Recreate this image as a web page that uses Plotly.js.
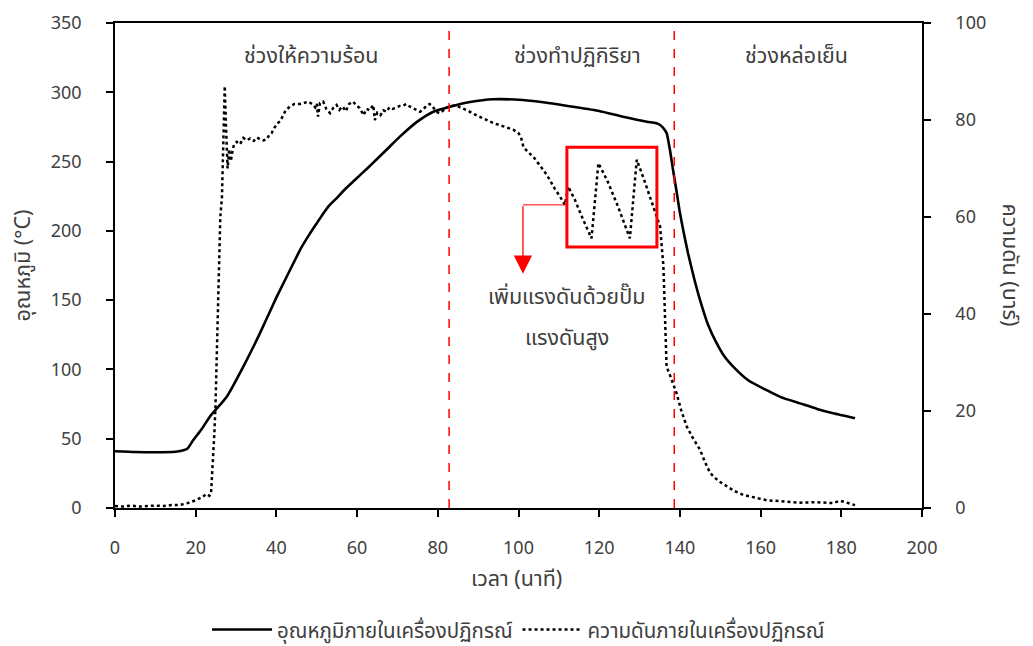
<!DOCTYPE html>
<html>
<head>
<meta charset="utf-8">
<script src="https://cdn.plot.ly/plotly-3.0.1.min.js"></script>
<style>html,body{margin:0;padding:0;background:#fff;}#chart{width:1033px;height:646px;}</style>
</head>
<body>
<div id="chart"></div>
<script>
// Temperature inside reactor (°C), left axis
const tempTime = [0,5,10,15,16.5,18,19.4,21.5,23.5,27.7,31.8,35.9,40.1,44.2,46.2,48.3,50,51.5,53,54.9,57,59.9,62.5,65,67.8,70.6,75,78.9,83,88,93.7,101,107,113.5,120,125.9,131.8,134,135.1,135.8,136.7,137.5,138.3,139.2,140,141,142,143.5,145,147,149,151,153.2,157,161.5,165,169.8,174,178,183.4];
const tempVal  = [41,40.4,40.2,40.6,41.3,43,49,57,65.9,80.3,102,126,152.5,176.6,188,198,205.5,212,218,223.5,230,238,245,252,260,268,279,286,289.6,293,295,294.4,292.5,289.6,286.5,282.4,278.8,277.8,276.4,274.5,270.6,259,244,228,213,198,184,166,150,132,119.5,109.5,102,92,85,80,75.5,71.5,68.3,64.7];

// Pressure inside reactor (bar), right axis
const presTime = [0,2,4,6,8,10,12,14,16,18,20,21.5,22.7,23.4,23.8,24.2,24.6,24.9,25.3,25.7,26.1,26.5,26.9,27.2,27.5,27.9,28.3,28.7,29.1,29.5,30.2,31,31.8,32.6,33.5,34.4,35.2,36,36.8,37.6,38.3,38.8,39.6,40.2,40.9,41.6,42.3,43.4,44.5,45.9,47,48,49,49.6,50,50.3,50.8,51.6,52.4,53.3,54.1,54.9,55.6,56.4,57.2,58,59,59.8,60.6,61.6,62.3,63.1,64,64.4,65,65.8,66.5,67.3,68,68.8,69.6,70.6,71.4,72.3,73,73.8,74.6,75.6,76.5,77.3,78,78.8,79.6,80.5,81.4,82.2,83,84,85,86.3,87.5,89,90.5,91.8,92.9,94,95.5,97,98.7,100,100.6,101.2,102.2,103.7,105,106.5,107.8,109,110.3,111.5,112.3,114,116,118.1,118.8,119.8,122,124.5,127.6,128.3,129.3,131,133,134.6,135.1,135.5,135.9,136.1,136.3,136.5,136.7,137.5,138.3,139.2,140.3,141.7,143.3,145,146.2,147.5,149.5,151.6,153.5,155.7,158.5,161.5,165,169.8,174,178,179.7,181,182.4,183.4];
const presVal  = [0.4,0.3,0.5,0.3,0.4,0.5,0.4,0.6,0.6,1.0,1.6,2.2,2.9,2.5,3,8,15,21,36,50,60,64,78,87,79,70,74,71.5,73.5,75,75.5,75,76.3,75.8,76.2,75.7,76.4,76,75.8,76,77,77.3,78.5,79.3,79.7,81,82,82.8,83.3,83.3,83.6,83.8,83.2,82.6,83.4,80.7,83.5,83.8,82.2,81.4,82.5,83.1,82.1,82.8,81.8,83.3,83.8,83,82.5,81,82.3,82,83.1,80,81.5,81,82,81.7,82.6,82.3,82.5,82.9,83,83.3,82.8,82.5,82.2,81.7,82.3,83,83.3,82.7,81.7,81.4,82,82.6,82.8,83,82.8,82.4,81.9,81.2,80.6,80.2,79.7,79.3,78.9,78.5,78,77.3,76.5,74.5,73.5,72.4,71,69.3,67.6,65.8,64.2,62.5,66.3,63.5,59.5,55.6,62,71.1,67.5,62.5,55.6,62,71.8,68,63,59.4,58,54,50,45,39.4,34,29.1,27.5,25.5,23.6,20.2,16.8,14.3,12,9.5,7.2,5.6,4.4,3.5,2.7,2.1,1.6,1.4,1.1,1.2,1.0,1.5,1.2,0.9,0.6];

const seriesNames = ['อุณหภูมิภายในเครื่องปฏิกรณ์', 'ความดันภายในเครื่องปฏิกรณ์'];
const phaseLabels = ['ช่วงให้ความร้อน', 'ช่วงทำปฏิกิริยา', 'ช่วงหล่อเย็น'];
const phaseLabelX = [48.8, 114.5, 169];
const phaseBounds = [82.8, 138.6];
const noteLines = ['เพิ่มแรงดันด้วยปั๊ม', 'แรงดันสูง'];

const FONT = 'Tahoma, "Noto Sans Thai", "Noto Sans", "DejaVu Sans", sans-serif';
const TXT = '#404040';
const THS = 21.5;

const traces = [
  {x: tempTime, y: tempVal, name: seriesNames[0], type: 'scatter', mode: 'lines',
   line: {color: '#000', width: 2.6, shape: 'spline', smoothing: 0.5}, yaxis: 'y'},
  {x: presTime, y: presVal, name: seriesNames[1], type: 'scatter', mode: 'lines',
   line: {color: '#000', width: 2.5, dash: 'dot'}, yaxis: 'y2'}
];

const shapes = phaseBounds.map(b => ({type: 'line', xref: 'x', yref: 'paper', x0: b, x1: b, y0: 0, y1: 1,
  line: {color: '#FF0000', width: 1.5, dash: 'dash'}}));
shapes.push({type: 'rect', xref: 'x', yref: 'y2', x0: 112, x1: 134.3, y0: 53.8, y1: 74.4,
  line: {color: '#FF0000', width: 3}});
shapes.push({type: 'line', xref: 'x', yref: 'y2', x0: 112, x1: 101.1, y0: 62.5, y1: 62.5,
  line: {color: '#FF0000', width: 1}});

const centered = {xanchor: 'center', yanchor: 'middle', showarrow: false};
const annotations = phaseLabels.map((t, i) => Object.assign({x: phaseLabelX[i], y: 0.93, xref: 'x', yref: 'paper',
  text: t, font: {size: THS, color: TXT, family: FONT}}, centered));
annotations.push({x: 101.1, y: 48.3, xref: 'x', yref: 'y2', ax: 101.1, ay: 62.5, axref: 'x', ayref: 'y2',
  showarrow: true, arrowhead: 2, arrowsize: 2.8, arrowwidth: 1.3, arrowcolor: '#FF0000', text: ''});
annotations.push(Object.assign({x: 112, y: 43.5, xref: 'x', yref: 'y2', text: noteLines[0],
  font: {size: THS, color: TXT, family: FONT}}, centered));
annotations.push(Object.assign({x: 112, y: 35, xref: 'x', yref: 'y2', text: noteLines[1],
  font: {size: THS, color: TXT, family: FONT}}, centered));
annotations.push(Object.assign({x: -0.114, y: 0.5, xref: 'paper', yref: 'paper', text: 'อุณหภูมิ (°C)', textangle: -90,
  font: {size: THS, color: TXT, family: FONT}}, centered));
annotations.push(Object.assign({x: 1.109, y: 0.5, xref: 'paper', yref: 'paper', text: 'ความดัน (บาร์)', textangle: 90,
  font: {size: THS, color: TXT, family: FONT}}, centered));
annotations.push(Object.assign({x: 0.498, y: -0.148, xref: 'paper', yref: 'paper', text: 'เวลา (นาที)',
  font: {size: THS, color: TXT, family: FONT}}, centered));

const axisCommon = {showgrid: false, zeroline: false, showline: true, linecolor: '#000', linewidth: 1.5,
  ticks: 'outside', ticklen: 7, tickwidth: 1.5, tickcolor: '#000',
  tickfont: {size: 18, color: TXT, family: FONT}};

const layout = {
  width: 1033, height: 646,
  margin: {l: 115, r: 111, t: 23, b: 138, autoexpand: false},
  paper_bgcolor: '#fff', plot_bgcolor: '#fff',
  font: {family: FONT, size: 18, color: TXT},
  showlegend: true,
  legend: {orientation: 'h', x: 0.5, xanchor: 'center', y: -0.251, yanchor: 'middle',
    font: {size: 20.5, color: TXT, family: FONT}, traceorder: 'normal', itemwidth: 60},
  xaxis: Object.assign({}, axisCommon, {range: [0, 200], dtick: 20, tick0: 0, mirror: true, ticklabelstandoff: 16}),
  yaxis: Object.assign({}, axisCommon, {range: [0, 350], dtick: 50, ticklabelstandoff: 21}),
  yaxis2: Object.assign({}, axisCommon, {range: [0, 100], dtick: 20, overlaying: 'y', side: 'right', ticklabelstandoff: 21}),
  shapes: shapes,
  annotations: annotations
};

Plotly.newPlot('chart', traces, layout, {displayModeBar: false, responsive: false});
</script>
</body>
</html>
